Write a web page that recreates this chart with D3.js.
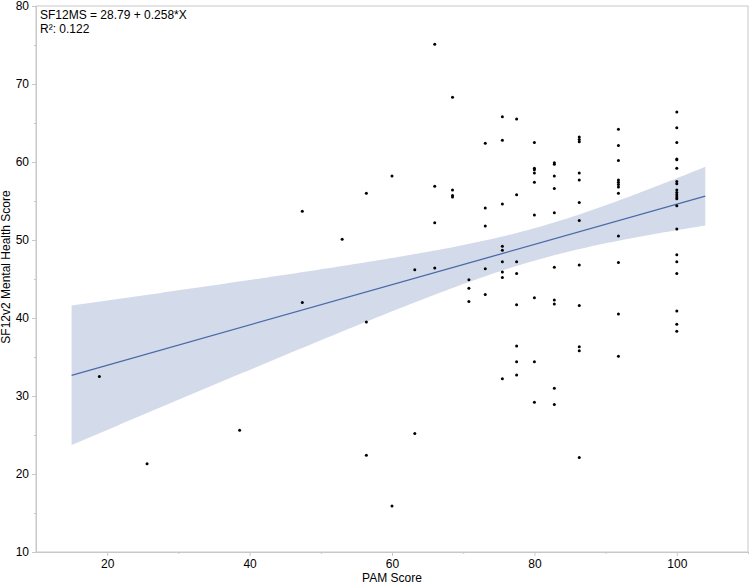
<!DOCTYPE html>
<html>
<head>
<meta charset="utf-8">
<script src="https://cdn.jsdelivr.net/npm/d3@7"></script>
<style>
  body { margin: 0; background: #fff; }
  text { font-family: "Liberation Sans", Arial, Helvetica, sans-serif; }
</style>
</head>
<body>
<svg id="chart" width="750" height="584"></svg>
<script>
// PAM score levels and the SF12v2 mental scores seen at each level
const pamLevels = [18.9, 25.6, 38.6, 47.4, 53.0, 56.4, 60.0, 63.2, 66.0, 68.5,
                   70.8, 73.1, 75.5, 77.5, 80.0, 82.8, 86.3, 91.8, 100];
const sf12ByLevel = [
  [32.5],
  [21.3],
  [25.6],
  [53.7, 42.0],
  [50.1],
  [56.0, 39.5, 22.4],
  [58.2, 15.9],
  [46.2, 25.2],
  [75.1, 56.9, 52.2, 46.4],
  [68.3, 56.4, 55.7, 55.5],
  [44.9, 43.8, 42.1],
  [62.4, 54.1, 51.8, 46.3, 43.0],
  [65.8, 62.8, 54.6, 49.2, 48.7, 47.2, 45.9, 45.2, 32.2],
  [65.5, 55.8, 47.2, 45.7, 41.7, 36.4, 34.4, 32.7],
  [62.5, 59.2, 59.0, 58.6, 57.4, 53.2, 42.6, 34.4, 29.2],
  [59.9, 59.7, 58.2, 56.6, 53.5, 46.5, 42.3, 41.8, 31.0, 28.9],
  [63.2, 62.9, 62.6, 58.6, 57.7, 54.8, 52.5, 46.8, 41.6, 36.3, 35.8, 22.1],
  [64.2, 62.1, 60.2, 57.7, 57.4, 57.1, 56.8, 56.0, 50.5, 47.1, 40.5, 35.1],
  [66.4, 64.4, 62.5, 60.4, 60.3, 59.2, 57.5, 57.2, 56.4, 56.1, 55.8, 55.5, 55.3,
   54.4, 51.4, 48.1, 47.2, 45.7, 40.9, 39.2, 38.3]
];

// fit reported in the chart
const fitIntercept = 28.79;
const fitSlope = 0.258;
const rSquared = 0.122;
const fitRange = [15, 104];

const xTicks = [20, 40, 60, 80, 100];
const yTicks = [10, 20, 30, 40, 50, 60, 70, 80];

const points = pamLevels.flatMap((p, i) => sf12ByLevel[i].map(s => ({pam: p, sf12: s})));

const margin = {top: 6, right: 2, bottom: 32, left: 36},
    width = 750 - margin.left - margin.right,
    height = 584 - margin.top - margin.bottom;

const svg = d3.select("#chart")
  .append("g")
  .attr("transform", `translate(${margin.left},${margin.top})`);

const x = d3.scaleLinear().domain([10, 110]).range([0, width]);
const y = d3.scaleLinear().domain([10, 80]).range([height, 0]);

// confidence band for the mean, from the residuals around the fitted line
const n = points.length;
const xMean = d3.mean(points, d => d.pam);
const sxx = d3.sum(points, d => (d.pam - xMean) ** 2);
const sse = d3.sum(points, d => (d.sf12 - (fitIntercept + fitSlope * d.pam)) ** 2);
const se = Math.sqrt(sse / (n - 2));
const tCrit = 1.98;
const fit = v => fitIntercept + fitSlope * v;
const halfWidth = v => tCrit * se * Math.sqrt(1 / n + (v - xMean) ** 2 / sxx);

const bandX = d3.range(fitRange[0], fitRange[1] + 0.001, 0.5);
const band = bandX.map(v => ({pam: v, lo: fit(v) - halfWidth(v), hi: fit(v) + halfWidth(v)}));

svg.append("path")
  .datum(band)
  .attr("fill", "#d3daea")
  .attr("d", d3.area().x(d => x(d.pam)).y0(d => y(d.lo)).y1(d => y(d.hi)));

svg.append("line")
  .attr("x1", x(fitRange[0])).attr("y1", y(fit(fitRange[0])))
  .attr("x2", x(fitRange[1])).attr("y2", y(fit(fitRange[1])))
  .attr("stroke", "#4b6aa8")
  .attr("stroke-width", 1.3);

svg.append("g")
  .selectAll("circle")
  .data(points)
  .join("circle")
  .attr("cx", d => x(d.pam))
  .attr("cy", d => y(d.sf12))
  .attr("r", 1.5)
  .attr("fill", "#000");

// frame
svg.append("rect")
  .attr("width", width).attr("height", height)
  .attr("fill", "none")
  .attr("stroke", "#c8c8c8");

// axes
const xAxis = svg.append("g")
  .attr("transform", `translate(0,${height})`)
  .call(d3.axisBottom(x).tickValues(xTicks).tickSize(4).tickPadding(3).tickSizeOuter(0));
const xMinor = svg.append("g")
  .attr("transform", `translate(0,${height})`)
  .call(d3.axisBottom(x).tickValues(xTicks.map(t => t + 10)).tickSize(2).tickFormat("").tickSizeOuter(0));

const yAxis = svg.append("g")
  .call(d3.axisLeft(y).tickValues(yTicks).tickSize(4).tickPadding(3).tickSizeOuter(0));
const yMinor = svg.append("g")
  .call(d3.axisLeft(y).tickValues(yTicks.slice(0, -1).map(t => t + 5)).tickSize(2).tickFormat("").tickSizeOuter(0));

[xAxis, xMinor, yAxis, yMinor].forEach(g => {
  g.select(".domain").attr("stroke", "#c8c8c8");
  g.selectAll(".tick line").attr("stroke", "#c8c8c8");
  g.selectAll(".tick text").attr("fill", "#000").style("font-size", "12px")
    .style("font-family", '"Liberation Sans", Arial, sans-serif');
});

// axis titles
svg.append("text")
  .attr("x", width / 2).attr("y", height + 30)
  .attr("text-anchor", "middle")
  .style("font-size", "12px")
  .text("PAM Score");

svg.append("text")
  .attr("transform", `translate(${-26},${height / 2 - 12}) rotate(-90)`)
  .attr("text-anchor", "middle")
  .style("font-size", "12px")
  .text("SF12v2 Mental Health Score");

// fit annotation
svg.append("text")
  .attr("x", 4).attr("y", 13)
  .style("font-size", "12px")
  .text(`SF12MS = ${fitIntercept} + ${fitSlope}*X`);
svg.append("text")
  .attr("x", 4).attr("y", 27)
  .style("font-size", "12px")
  .text(`R²: ${rSquared}`);
</script>
</body>
</html>
